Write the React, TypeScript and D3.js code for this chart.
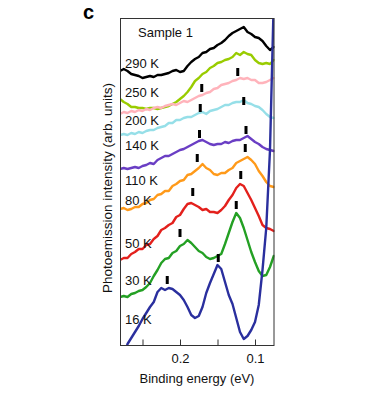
import React, { useRef, useEffect } from 'react';
import * as d3 from 'd3';

// binding energy grid (eV), high -> low
const energies = [0.280, 0.275, 0.270, 0.265, 0.260, 0.255, 0.250, 0.245, 0.240, 0.235, 0.230, 0.225, 0.220, 0.215, 0.210, 0.205, 0.200, 0.195, 0.190, 0.185, 0.180, 0.175, 0.170, 0.165, 0.160, 0.155, 0.150, 0.145, 0.140, 0.135, 0.130, 0.125, 0.120, 0.115, 0.110, 0.105, 0.100, 0.095, 0.090, 0.085, 0.080, 0.075];

const temperatures = ["290 K", "250 K", "200 K", "140 K", "110 K", "80 K", "50 K", "30 K", "16 K"];

// photoemission intensity (arb. units, offset per temperature)
const i290 = [275, 277, 275, 272, 271, 270, 268, 269, 270, 269, 271, 271, 272, 273, 275, 276, 274, 275, 280, 284, 287, 289, 293, 294, 297, 298, 301, 303, 306, 310, 313, 315, 317, 319, 314, 312, 309, 308, 305, 300, 296, 299];
const i250 = [247, 244, 242, 239, 239, 238, 238, 237, 238, 238, 237, 238, 239, 240, 242, 244, 247, 250, 254, 259, 265, 268, 272, 274, 278, 280, 283, 284, 286, 287, 289, 293, 291, 294, 292, 291, 286, 283, 282, 283, 282, 286];
const i200 = [232, 234, 233, 235, 234, 236, 235, 237, 236, 238, 239, 238, 240, 241, 242, 241, 243, 245, 244, 246, 248, 250, 251, 253, 254, 257, 258, 261, 262, 263, 265, 266, 268, 267, 268, 266, 266, 263, 263, 264, 266, 268];
const i140 = [211, 212, 211, 213, 212, 214, 213, 215, 216, 216, 218, 219, 220, 223, 223, 226, 226, 228, 229, 229, 231, 233, 234, 232, 235, 236, 237, 239, 241, 241, 243, 244, 244, 246, 243, 242, 240, 239, 236, 232, 229, 228];
const i110 = [177, 178, 177, 178, 179, 178, 180, 181, 183, 182, 186, 188, 190, 190, 192, 194, 196, 197, 199, 201, 203, 205, 206, 204, 202, 201, 202, 202, 204, 203, 205, 206, 206, 208, 210, 207, 204, 202, 199, 197, 196, 195];
const i80 = [137, 138, 136, 137, 139, 139, 142, 143, 146, 147, 151, 152, 155, 155, 160, 162, 165, 166, 171, 172, 175, 178, 182, 178, 176, 172, 171, 173, 173, 176, 178, 183, 185, 187, 189, 186, 182, 175, 170, 164, 160, 159];
const i50 = [86, 88, 88, 92, 94, 97, 97, 101, 102, 107, 110, 116, 118, 121, 123, 129, 131, 137, 142, 143, 141, 139, 136, 137, 134, 134, 133, 136, 140, 146, 151, 158, 162, 160, 153, 146, 138, 130, 121, 118, 117, 115];
const i30 = [49, 50, 49, 52, 53, 55, 56, 59, 63, 70, 76, 83, 87, 88, 93, 95, 100, 102, 106, 103, 99, 95, 93, 89, 87, 88, 90, 92, 102, 113, 124, 133, 128, 118, 106, 94, 84, 75, 70, 71, 79, 90];
const i16 = [-19, -11, 2, 8, 14, 20, 27, 33, 39, 44, 54, 58, 56, 58, 57, 54, 51, 46, 39, 31, 28, 30, 39, 53, 63, 72, 81, 77, 64, 51, 42, 28, 14, 7, 10, 16, 24, 41, 76, 118, 196, 346];

const series = [i290, i250, i200, i140, i110, i80, i50, i30, i16];

// peak markers
const markerTemps = ["200 K", "140 K", "110 K", "80 K", "50 K", "30 K", "16 K"];
const markerLowE = [0.171, 0.173, 0.174, 0.177, 0.183, 0.200, 0.217];
const markerLowI = [258, 238, 212, 188, 154, 113, 66];
const markerHighE = [0.123, 0.115, 0.112, 0.113, 0.119, 0.125, 0.149];
const markerHighI = [274, 245, 216, 198, 171, 141, 88];

const xTicks = [0.25, 0.2, 0.15, 0.1];

const colors = ["#000000", "#99cc00", "#ffb3bb", "#96dfe8", "#6a3ec4", "#ff9a1a", "#e3201c", "#24a024", "#2a2f9e"];
const labelLevels = [278, 249, 221, 196, 161, 141, 98, 61, 22];

const FONT = "'Liberation Sans', Arial, sans-serif";

function Chart() {
    const ref = useRef(null);

    useEffect(() => {
        let svg = d3.select(ref.current);
        svg.selectAll('*').remove();

        const left = 120, right = 274.5, top = 18, bottom = 346;
        const x = d3.scaleLinear().domain([0.28, 0.074]).range([left, right]);
        const y = d3.scaleLinear().domain([0, 328]).range([bottom, top]);

        svg.append("clipPath").attr("id", "plotclip")
            .append("rect")
            .attr("x", left).attr("y", top)
            .attr("width", right - left).attr("height", bottom - top);

        // curves
        const line = d3.line()
            .x((d, i) => x(energies[i]))
            .y(d => y(d));

        const curves = svg.append("g").attr("clip-path", "url(#plotclip)");
        series.forEach((s, k) => {
            curves.append("path")
                .attr("d", line(s))
                .attr("fill", "none")
                .attr("stroke", colors[k])
                .attr("stroke-width", 2.4)
                .attr("stroke-linejoin", "round")
                .attr("stroke-linecap", "round");
        });

        // peak markers
        const marks = svg.append("g");
        markerTemps.forEach((t, k) => {
            [[markerLowE[k], markerLowI[k]], [markerHighE[k], markerHighI[k]]].forEach(p => {
                marks.append("rect")
                    .attr("x", x(p[0]) - 1.5)
                    .attr("y", y(p[1]) - 4)
                    .attr("width", 3)
                    .attr("height", 8)
                    .attr("fill", "#000");
            });
        });

        // frame
        svg.append("rect")
            .attr("x", left + 0.5).attr("y", top + 0.5)
            .attr("width", right - left - 1).attr("height", bottom - top - 1)
            .attr("fill", "none")
            .attr("stroke", "#333")
            .attr("stroke-width", 1);

        // bottom axis, ticks pointing in
        const axis = svg.append("g")
            .attr("transform", "translate(0," + (bottom - 0.5) + ")")
            .call(d3.axisBottom(x)
                .tickValues(xTicks)
                .tickSizeInner(-6)
                .tickSizeOuter(0)
                .tickPadding(8)
                .tickFormat(d => (d === 0.2 || d === 0.1) ? d3.format(".1f")(d) : ""));
        axis.select(".domain").remove();
        axis.selectAll("line").attr("stroke", "#333");
        axis.selectAll("text")
            .attr("font-family", FONT)
            .attr("font-size", "13px")
            .attr("fill", "#111");

        // temperature labels
        temperatures.forEach((t, k) => {
            svg.append("text")
                .attr("x", 125)
                .attr("y", y(labelLevels[k]))
                .attr("font-family", FONT)
                .attr("font-size", "13px")
                .attr("fill", "#111")
                .text(t);
        });

        svg.append("text")
            .attr("x", 138).attr("y", 37)
            .attr("font-family", FONT)
            .attr("font-size", "13px")
            .attr("fill", "#111")
            .text("Sample 1");

        svg.append("text")
            .attr("x", 197).attr("y", 383)
            .attr("text-anchor", "middle")
            .attr("font-family", FONT)
            .attr("font-size", "13px")
            .attr("fill", "#111")
            .text("Binding energy (eV)");

        svg.append("text")
            .attr("transform", "translate(112,188) rotate(-90)")
            .attr("text-anchor", "middle")
            .attr("font-family", FONT)
            .attr("font-size", "13.5px")
            .attr("fill", "#111")
            .text("Photoemission intensity (arb. units)");

        svg.append("text")
            .attr("x", 83).attr("y", 18.5)
            .attr("font-family", FONT)
            .attr("font-size", "20px")
            .attr("font-weight", "bold")
            .attr("fill", "#000")
            .text("c");
    }, []);

    return (
        <svg ref={ref} width={373} height={400}
             style={{ position: "absolute", left: 0, top: 0, background: "#fff" }} />
    );
}

export default function App() {
    return <Chart />;
}
